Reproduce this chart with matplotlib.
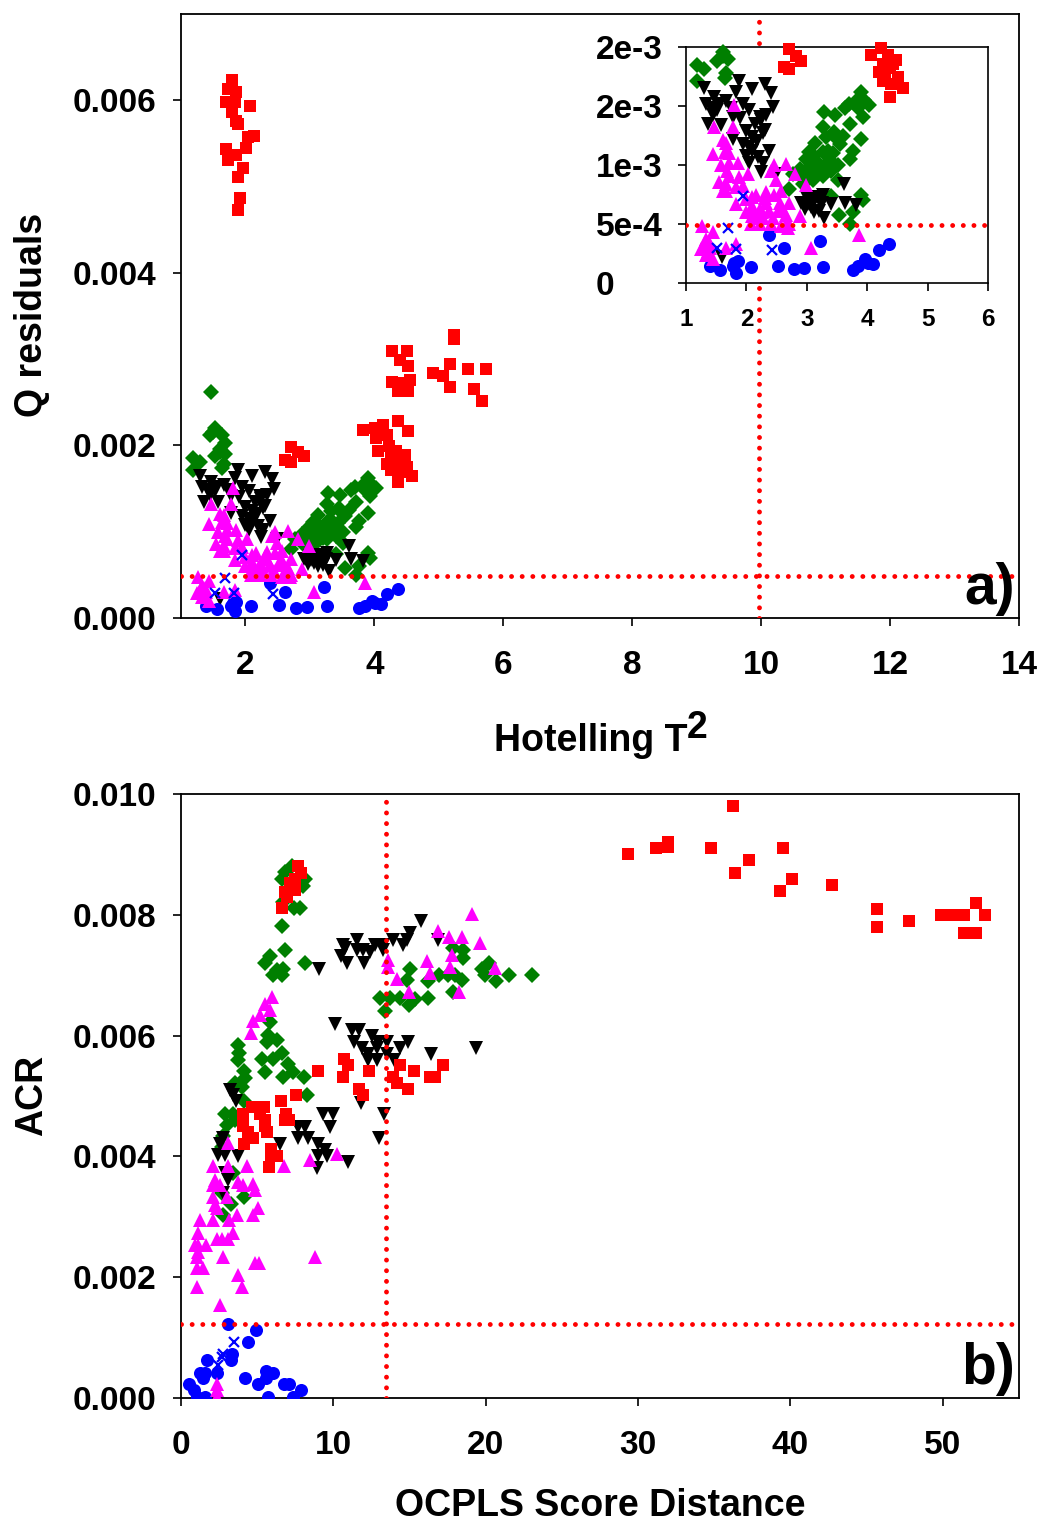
import matplotlib
matplotlib.use("Agg")
import matplotlib.pyplot as plt

plt.rcParams['font.family'] = ['Liberation Sans', 'DejaVu Sans']
plt.rcParams['font.weight'] = 'bold'

W, H = 1040, 1521

# ---------- panel a: (Hotelling T2, Q residuals) ----------
a_blue = [(1.39,.000142),(1.56,.000108),(1.80,.00017),(1.86,.000185),(1.83,.000085),(1.78,.00014),(2.08,.000137),
          (2.38,.00041),(2.52,.000148),(2.62,.000296),(2.78,.000117),(2.95,.000131),(3.22,.000356),(3.27,.000134),
          (3.76,.000111),(3.85,.000142),(3.96,.0002),(4.01,.00017),(4.10,.000162),(4.19,.000276),(4.36,.000333)]
a_cross = [(1.69,.000464),(1.82,.000287),(1.52,.000293),(2.42,.000276),(1.94,.000734)]
a_magenta = [(1.26,.00048),(1.44,.00043),(1.33,.00037),(1.30,.00033),(1.25,.00029),(1.39,.00030),(1.33,.00024),(1.44,.00020),
             (1.66,.00030),(1.83,.00033),(3.86,.00041),(3.07,.00030),(2.88,.00057),(2.71,.00050),(2.57,.00048),(2.22,.00050),
             (2.08,.00050),(2.10,.00057),(2.27,.00055),(2.44,.00055),(2.66,.00058),(2.71,.00068),(2.55,.00068),(2.46,.00075),
             (2.33,.00077),(2.16,.00075),(1.99,.00071),(1.83,.00067),(2.10,.00065),(2.22,.00063),(2.38,.00061),(2.57,.00078),
             (2.49,.00087),(2.41,.00095),(2.46,.00100),(2.66,.00101),(2.81,.00092),(2.99,.00083),(2.02,.00092),(1.88,.00090),
             (1.72,.00091),(1.83,.00081),(1.61,.00078),(1.66,.00084),(1.58,.00100),(1.72,.00102),(1.86,.00102),(1.44,.00109),
             (1.64,.00111),(1.66,.00119),(1.47,.00132),(1.77,.00132),(1.80,.00151),(1.61,.00121),(1.72,.00110),(1.66,.00078),
             (2.33,.00068),(2.52,.00061),(2.10,.00073),(2.69,.00047),
             (2.25,.00060),(2.4,.00050),(2.0,.00060),(2.3,.00072),(2.6,.00062),(2.65,.00050),(1.95,.00082),(1.55,.00086),
             (1.68,.00095),(2.15,.00055),(1.38,.00035),(1.37,.00027)]
a_black = [(1.30,.00165),(1.33,.00152),(1.47,.00158),(1.66,.00154),(1.36,.00135),(1.58,.00134),(1.77,.00141),(1.88,.00171),
           (1.83,.00162),(2.10,.00164),(2.31,.00169),(2.41,.00161),(2.44,.00149),(1.94,.00152),(2.05,.00147),(2.22,.00141),
           (2.33,.00142),(2.24,.00138),(2.27,.00127),(2.10,.00124),(1.99,.00129),(1.77,.00122),(1.94,.00118),(2.10,.00112),
           (2.19,.00107),(2.05,.00102),(2.38,.00112),(2.27,.00102),(2.24,.00094),(2.49,.00092),(2.91,.00068),(3.02,.00067),
           (3.15,.00073),(3.27,.00075),(3.07,.00064),(3.21,.00061),(3.29,.00055),(3.40,.00067),(3.61,.00084),(3.64,.00068),
           (3.82,.00066),(1.60,.00022),(3.10,.00071),(3.21,.0007),(1.52,.00147),
           (1.42,.00148),(1.55,.00152),(1.75,.00148),(1.9,.00140),(2.15,.00135),(2.3,.00130),(2.18,.00120),(2.05,.00115),
           (1.45,.00142),(2.0,.00108),(3.0,.00072),(3.25,.00068),(3.12,.00060),(2.97,.00063)]
a_green = [(1.18,.00185),(1.30,.00181),(1.52,.00188),(1.61,.00196),(1.69,.00190),(1.18,.00171),(1.64,.00174),(1.61,.00192),
           (1.66,.00178),(3.90,.00162),(4.03,.00151),(3.82,.00154),(3.64,.00148),(3.93,.00141),(3.46,.00142),(3.28,.00145),
           (3.27,.00132),(3.72,.00135),(3.90,.00122),(3.76,.00112),(3.71,.00105),(3.51,.00121),(3.32,.00124),(3.13,.00119),
           (2.99,.00105),(2.88,.00097),(2.77,.00092),(3.04,.00098),(3.21,.00101),(3.38,.00104),(3.51,.00100),(3.27,.00091),
           (3.10,.00087),(2.93,.00084),(2.71,.00080),(3.40,.00074),(3.51,.00087),(3.90,.00075),(3.93,.0007),(3.54,.00058),
           (3.76,.0006),(3.71,.0005),(3.27,.00111),(3.43,.0011),(3.04,.00111),
           (3.0,.00095),(3.1,.00100),(3.15,.00095),(3.2,.00093),(3.3,.00098),(3.4,.00095),(3.05,.00090),(2.95,.0009),
           (3.35,.00112),(3.12,.00108),(3.55,.00118),(3.6,.00125),(3.45,.00128),(3.85,.00148),(3.95,.00155),(3.7,.00152),
           (1.465,.00262),(1.53,.0022),(1.45,.00212),(1.63,.00212),(1.68,.00203),(1.50,.00216)]
a_red = [(2.71,.00198),(2.82,.00192),(2.91,.00188),(2.62,.00183),(2.71,.00181),(4.06,.00193),(4.23,.00199),(4.34,.00193),
         (4.48,.00189),(4.26,.00186),(4.20,.00179),(4.37,.00182),(4.51,.00175),(4.26,.00171),(4.40,.00169),(4.59,.00165),
         (4.37,.00158),(4.29,.00175),(4.43,.00186),
         (5.23,.00328),(5.23,.00323),(4.28,.00309),(4.50,.00309),(4.39,.00299),(4.52,.00292),(5.18,.00294),(4.91,.00284),
         (5.45,.00289),(5.73,.00288),(5.06,.0028),(5.17,.00268),(5.54,.00265),(5.67,.00251),(4.27,.00274),(4.40,.00272),
         (4.55,.00276),(4.52,.00263),(4.37,.00263),(3.82,.00218),(4.01,.0022),(4.14,.00224),(4.37,.00228),(4.52,.00217),
         (4.03,.00209),(4.19,.00212),
         (1.79,.00624),(1.73,.00613),(1.85,.0061),(1.70,.00598),(1.84,.00598),(2.07,.00593),(1.79,.00586),(1.85,.00576),
         (1.88,.00572),(2.13,.00559),(2.04,.00558),(1.70,.00543),(2.01,.00545),(1.85,.00537),(1.73,.00531),(1.96,.00522),
         (1.88,.00511),(1.91,.00487),(1.88,.00473)]

# ---------- panel b: (OCPLS score distance, ACR) ----------
b_blue = [(3.06,.00122),(4.92,.00112),(4.42,.00092),(3.33,.00073),(3.26,.00063),(1.73,.00063),(1.25,.00042),(1.58,.00042),
          (2.34,.00042),(1.42,.00033),(.53,.00023),(.88,.00013),(1.07,.00002),(1.58,.00002),(4.2,.00033),(5.08,.00023),
          (5.58,.00044),(6.02,.00042),(5.58,.00033),(6.76,.00023),(7.11,.00023),(7.85,.00013),(7.37,.00002),(5.69,.00002)]
b_cross = [(3.48,.00092),(2.78,.00073),(2.7,.00068),(2.45,.00055)]
b_red = [(29.33,.0090),(31.17,.0091),(31.96,.0092),(31.96,.00912),(34.78,.0091),(36.2,.0098),(36.35,.0087),(37.3,.0089),
         (39.5,.0091),(39.3,.0084),(40.1,.0086),(42.7,.0085),(45.7,.0081),(45.7,.0078),(47.8,.0079),(49.9,.0080),(50.7,.0080),
         (51.4,.0080),(52.2,.0082),(51.4,.0077),(52.2,.0077),(52.8,.0080),
         (7.7,.0088),(7.9,.00869),(7.48,.00860),(7.15,.00852),(7.48,.00841),(6.83,.00838),(6.65,.00811),(6.94,.0083),
         (9.01,.00541),(10.72,.00561),(10.94,.00551),(12.34,.00541),(10.63,.00531),(14.39,.00551),(15.31,.00541),(13.93,.00531),
         (14.2,.00522),(16.34,.00531),(16.67,.00531),(17.19,.00551),(14.92,.00512),(11.66,.00512),(11.92,.00502),(7.55,.00502),
         (6.54,.00492),(4.64,.00481),(5.43,.00481),(4.09,.00471),(5.19,.00471),(6.89,.00471),(5.51,.00461),(6.83,.00461),
         (7.11,.00461),(4.05,.00451),(5.51,.00451),(4.42,.00441),(5.62,.00441),(4.75,.00431),(4.14,.00421),(5.91,.00412),
         (5.91,.00401),(6.32,.00401),(5.8,.00382)]
b_black = [(15.73,.00789),(15.03,.0077),(13.89,.00759),(14.85,.00759),(14.59,.0075),(13.28,.0075),(12.73,.0075),(11.53,.00759),
           (10.65,.0075),(10.76,.00745),(11.53,.00741),(11.97,.00741),(12.4,.00739),(13.28,.00741),(16.89,.00758),(10.5,.00731),
           (10.87,.0072),(12.01,.0072),(9.08,.0071),(10.11,.0062),(11.2,.00609),(11.7,.00609),(12.51,.00599),(11.38,.00589),
           (12.95,.00589),(13.5,.00589),(14.87,.00589),(11.86,.00579),(12.84,.00579),(14.37,.00579),(19.36,.00579),(16.41,.00569),
           (12.3,.00569),(13.5,.00569),(12.3,.0056),(12.84,.0056),(13.98,.0056),(3.22,.0051),(3.44,.00502),(3.59,.00492),
           (11.81,.00489),(13.32,.0047),(9.34,.0047),(10,.0047),(9.78,.00449),(7.7,.00449),(8.14,.00449),(7.7,.0043),(8.36,.0043),
           (13.02,.0043),(8.97,.0042),(6.5,.0042),(9.45,.00411),(8.97,.00401),(9.56,.00401),(10.94,.0039),(8.9,.0038),(2.78,.00431),
           (2.56,.0042),(2.45,.00402),(2.89,.00402),(3.76,.00401),(2.89,.00372),(3.11,.00361),(2.78,.00339)]
b_green = [(7.26,.0088),(6.83,.00871),(6.61,.0086),(8.14,.0086),(8.03,.00847),(6.72,.00822),(7.42,.00811),(7.81,.00811),(6.61,.00781),
           (6.83,.00742),(5.84,.00731),(5.51,.00721),(8.14,.00721),(6.28,.00709),(6.72,.00711),(6.06,.007),(6.61,.007),(15.03,.00711),
           (14.85,.00692),(16.19,.00691),(17.87,.00745),(18.48,.00742),(18.48,.00728),(16.95,.00701),(17.54,.00701),(17.98,.007),
           (18.42,.00692),(19.73,.00711),(20.23,.0072),(19.95,.007),(20.65,.00691),(21.5,.00701),(23.06,.00701),(13.06,.00662),
           (13.72,.00662),(14.37,.00662),(14.98,.00651),(15.36,.0066),(16.23,.00662),(17.87,.00672),(13.39,.00641),(5.84,.00622),
           (5.73,.00601),(6.28,.00592),(5.62,.0059),(3.76,.00584),(3.83,.00572),(3.72,.0056),(6.61,.00572),(5.3,.00561),(6.06,.00562),
           (7.04,.00553),(5.51,.0054),(7.37,.0054),(6.72,.00531),(8.09,.00531),(4.14,.00542),(4.2,.00529),(3.55,.00521),(3.98,.00515),
           (8.25,.00501),(4.14,.00491),(2.89,.00471),(3.44,.00471),(3.55,.0046),(3,.00452),(2.78,.00433),(2.67,.00416),(3.44,.00372),
           (4.14,.00332),(2.67,.00339),(3.26,.00322),(2.74,.00303)]
b_magenta = [(19.08,.00802),(16.89,.00773),(17.61,.00764),(18.42,.00764),(19.62,.00754),(17.76,.00733),(16.12,.00723),(20.61,.00712),
             (17.65,.00714),(16.34,.00703),(13.61,.00725),(13.61,.00713),(14.2,.00693),(14.96,.00673),(18.27,.00673),(5.95,.00664),
             (5.51,.00653),(5.84,.00642),(5.19,.00634),(4.75,.00624),(4.6,.00604),(3.11,.00422),(10.22,.00404),(8.47,.00394),(4.35,.00384),
             (6.76,.00384),(2.12,.00384),(3.11,.00384),(2.23,.00361),(3.76,.00357),(4.75,.00354),(4.05,.00353),(4.86,.00344),(2.12,.00353),
             (2.56,.00353),(2.12,.00333),(3,.00333),(2.23,.0032),(5.08,.00314),(2.34,.00314),(3.65,.00303),(4.7,.00303),(1.25,.00294),
             (2.08,.00294),(3.17,.00294),(3.44,.00273),(1.14,.00273),(2.34,.00263),(3.11,.00263),(2.67,.00264),(1.64,.00253),(.92,.00253),
             (1.1,.00253),(1.1,.00242),(2.74,.00233),(8.82,.00233),(1.07,.00233),(4.86,.00224),(5.14,.00224),(1.03,.00215),(1.42,.00215),
             (3.76,.00204),(1.03,.00183),(3.98,.00183),(2.56,.00154),(2.34,.00023),(2.34,.00013),(2.34,.00002)]

# limits / reference lines / ticks
a_xticks = [2, 4, 6, 8, 10, 12, 14]
a_yticks = [0.000, 0.002, 0.004, 0.006]
a_ylabels = ['0.000', '0.002', '0.004', '0.006']
a_vline, a_hline = 9.97, 0.00049
b_xticks = [0, 10, 20, 30, 40, 50]
b_yticks = [0.000, 0.002, 0.004, 0.006, 0.008, 0.010]
b_ylabels = ['0.000', '0.002', '0.004', '0.006', '0.008', '0.010']
b_vline, b_hline = 13.45, 0.00122
in_xticks = [1, 2, 3, 4, 5, 6]
in_yticks = [0, 0.0005, 0.001, 0.0015, 0.002]
in_ylabels = ['0', '5e-4', '1e-3', '2e-3', '2e-3']

RED, GREEN, BLACK, BLUE, MAG = '#ff0000', '#007f00', '#000000', '#0000ff', '#ff00ff'
DOT = dict(color=RED, lw=3.5, linestyle=(0, (0.01, 2.18)), dash_capstyle='round')
MS_SQ, MS_DI, MS_TR, MS_CI, MS_X = 8.7, 8.6, 10.2, 9.4, 7.2


def axes_px(l, t, r, b):
    return fig.add_axes([l / W, 1 - b / H, (r - l) / W, (b - t) / H])


def scatter(ax, pts, marker, color, ms, z, clip=True, mew=0.0):
    xs = [p[0] for p in pts]
    ys = [p[1] for p in pts]
    ax.plot(xs, ys, ls='none', marker=marker, color=color, ms=ms, mew=mew, zorder=z, clip_on=clip)


def style(ax, fs=24, pad=17):
    for s in ax.spines.values():
        s.set_linewidth(1.3)
    ax.tick_params(axis='both', length=6, width=1.2, labelsize=fs)
    ax.tick_params(axis='x', pad=pad)
    ax.tick_params(axis='y', pad=11.5)


fig = plt.figure(figsize=(W / 100, H / 100), dpi=100, facecolor='white')

# panel a
ax = axes_px(181, 14, 1019, 618)
ax.set_xlim(1, 14)
ax.set_ylim(0, 0.007)
scatter(ax, a_red, 's', RED, MS_SQ, 3)
scatter(ax, a_green, 'D', GREEN, MS_DI, 4)
scatter(ax, a_black, 'v', BLACK, MS_TR, 5)
scatter(ax, a_blue, 'o', BLUE, MS_CI, 6)
scatter(ax, a_magenta, '^', MAG, MS_TR, 7)
scatter(ax, a_cross, 'x', BLUE, MS_X, 8, mew=1.6)
ax.axvline(a_vline, zorder=9, **DOT)
ax.axhline(a_hline, zorder=9, **DOT)
ax.set_xticks(a_xticks)
ax.set_yticks(a_yticks, a_ylabels)
style(ax)
ax.text(1015 / W, 1 - 604 / H, 'a)', transform=fig.transFigure, ha='right', va='baseline',
        fontsize=41, fontweight='bold', zorder=12)

# inset
ins = axes_px(686, 47, 988, 283)
ins.set_zorder(5)
ins.set_facecolor('white')
ins.set_xlim(1, 6)
ins.set_ylim(0, 0.002)
in_y = 0.002
scatter(ins, [p for p in a_red if p[1] <= in_y], 's', RED, MS_SQ, 3, clip=False)
scatter(ins, [p for p in a_green if p[1] <= in_y], 'D', GREEN, MS_DI, 4, clip=False)
scatter(ins, a_black, 'v', BLACK, MS_TR, 5, clip=False)
scatter(ins, a_blue, 'o', BLUE, MS_CI, 6, clip=False)
scatter(ins, a_magenta, '^', MAG, MS_TR, 7, clip=False)
scatter(ins, a_cross, 'x', BLUE, MS_X, 8, mew=1.6, clip=False)
ins.axhline(a_hline, zorder=9, **DOT)
ins.set_xticks(in_xticks)
ins.set_yticks(in_yticks, in_ylabels)
for s in ins.spines.values():
    s.set_linewidth(1.2)
ins.tick_params(axis='x', length=6, width=1.2, labelsize=17.5, pad=12)
ins.tick_params(axis='y', length=6, width=1.2, labelsize=24, pad=59)
for lab in ins.get_yticklabels():
    lab.set_ha('left')

# panel b
bx = axes_px(181, 794, 1019, 1398)
bx.set_xlim(0, 55)
bx.set_ylim(0, 0.010)
scatter(bx, b_blue, 'o', BLUE, MS_CI, 3)
scatter(bx, b_green, 'D', GREEN, MS_DI, 4)
scatter(bx, b_black, 'v', BLACK, MS_TR, 5)
scatter(bx, b_magenta, '^', MAG, MS_TR, 6)
scatter(bx, b_red, 's', RED, MS_SQ, 7)
scatter(bx, b_cross, 'x', BLUE, MS_X, 8, mew=1.6)
bx.axvline(b_vline, zorder=9, **DOT)
bx.axhline(b_hline, zorder=9, **DOT)
bx.set_xticks(b_xticks)
bx.set_yticks(b_yticks, b_ylabels)
style(bx)
bx.text(1015 / W, 1 - 1384 / H, 'b)', transform=fig.transFigure, ha='right', va='baseline',
        fontsize=41, fontweight='bold', zorder=12)

# axis titles
fig.text(32 / W, 1 - 315 / H, 'Q residuals', rotation=90, ha='center', va='center', fontsize=27, fontweight='bold')
fig.text(32 / W, 1 - 1095 / H, 'ACR', rotation=90, ha='center', va='center', fontsize=27, fontweight='bold')
fig.text(687 / W, 1 - 751 / H, 'Hotelling T', ha='right', va='baseline', fontsize=27, fontweight='bold')
fig.text(687 / W, 1 - 738 / H, '2', ha='left', va='baseline', fontsize=27, fontweight='bold')
fig.text(600 / W, 1 - 1516 / H, 'OCPLS Score Distance', ha='center', va='baseline', fontsize=27, fontweight='bold')

fig.savefig('out.png', dpi=100, facecolor='white')
